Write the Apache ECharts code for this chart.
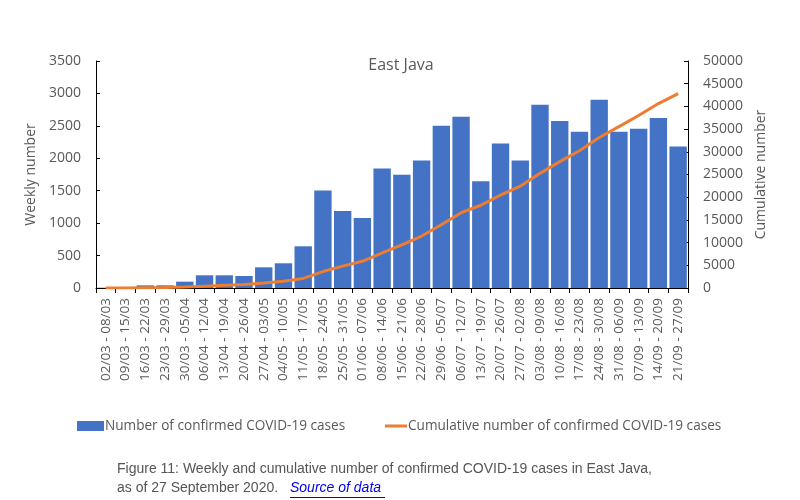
<!DOCTYPE html>
<html>
<head>
<meta charset="utf-8">
<script src="https://cdn.jsdelivr.net/npm/echarts@6/dist/echarts.min.js"></script>
<style>
html,body{margin:0;padding:0;background:#fff;}
#c{width:800px;height:500px;}
</style>
</head>
<body>
<div id="c"></div>
<script>
var categories = ['02/03 - 08/03','09/03 - 15/03','16/03 - 22/03','23/03 - 29/03','30/03 - 05/04','06/04 - 12/04','13/04 - 19/04','20/04 - 26/04','27/04 - 03/05','04/05 - 10/05','11/05 - 17/05','18/05 - 24/05','25/05 - 31/05','01/06 - 07/06','08/06 - 14/06','15/06 - 21/06','22/06 - 28/06','29/06 - 05/07','06/07 - 12/07','13/07 - 19/07','20/07 - 26/07','27/07 - 02/08','03/08 - 09/08','10/08 - 16/08','17/08 - 23/08','24/08 - 30/08','31/08 - 06/09','07/09 - 13/09','14/09 - 20/09','21/09 - 27/09'];
var weekly = [5,10,41,41,98,196,196,185,319,381,643,1503,1189,1081,1843,1745,1966,2501,2640,1647,2229,1966,2826,2574,2409,2903,2409,2455,2620,2182];
var cumulative = [5,15,55,95,195,390,585,770,1090,1470,2115,3620,4810,5890,7730,9480,11440,13940,16580,18230,20460,22430,25250,27830,30230,33140,35550,38000,40620,42800];
var leftTicks = {min:0, max:3500, interval:500};
var rightTicks = {min:0, max:50000, interval:5000};
var barName = 'Number of confirmed COVID-19 cases';
var lineName = 'Cumulative number of confirmed COVID-19 cases';

var gray = '#595959';
var font = '"Open Sans", sans-serif';
var capFont = '14px "Liberation Sans", Arial, sans-serif';
var plain = function (v) { return String(v); };
var chart = echarts.init(document.getElementById('c'), null, {renderer:'canvas'});
chart.setOption({
  animation:false,
  backgroundColor:'#fff',
  title:{text:'East Java', left:396, textAlign:'center', top:52,
    textStyle:{color:gray, fontSize:16, fontWeight:'normal', fontFamily:font}},
  grid:{left:96, right:112, top:61, bottom:212, containLabel:false},
  legend:[{
    top:414, left:72, itemWidth:27, itemHeight:10, icon:'rect',
    textStyle:{color:gray, fontSize:13.6, fontFamily:font, padding:[0,0,0,-4]},
    data:[barName]
  },{
    top:414, left:380, itemWidth:22, itemHeight:3, icon:'rect',
    textStyle:{color:gray, fontSize:13.6, fontFamily:font, padding:[0,0,0,-4]},
    data:[lineName]
  }],
  xAxis:{
    type:'category', data:categories, boundaryGap:true,
    axisLine:{lineStyle:{color:'#000', width:1}},
    axisTick:{show:true, alignWithLabel:false, length:5, lineStyle:{color:'#000'}},
    axisLabel:{rotate:90, interval:0, color:gray, fontSize:13.5, fontFamily:font, margin:10}
  },
  yAxis:[{
    type:'value', min:leftTicks.min, max:leftTicks.max, interval:leftTicks.interval,
    name:'Weekly number', nameLocation:'middle', nameGap:43, nameRotate:90,
    nameTextStyle:{color:gray, fontSize:14, fontFamily:font},
    axisLine:{show:true, lineStyle:{color:'#000'}},
    axisTick:{show:true, inside:true, length:4, lineStyle:{color:'#000'}},
    axisLabel:{color:gray, fontSize:14, fontFamily:font, margin:15, formatter:plain},
    splitLine:{show:false}
  },{
    type:'value', min:rightTicks.min, max:rightTicks.max, interval:rightTicks.interval,
    name:'Cumulative number', nameLocation:'middle', nameGap:58, nameRotate:90,
    nameTextStyle:{color:gray, fontSize:14, fontFamily:font},
    axisLine:{show:true, lineStyle:{color:'#000'}},
    axisTick:{show:true, inside:true, length:4, lineStyle:{color:'#000'}},
    axisLabel:{color:gray, fontSize:14, fontFamily:font, margin:15, formatter:plain},
    splitLine:{show:false}
  }],
  series:[{
    name:barName, type:'bar', data:weekly, yAxisIndex:0,
    barCategoryGap:'12%', itemStyle:{color:'#4472C4'}
  },{
    name:lineName, type:'line', data:cumulative, yAxisIndex:1,
    showSymbol:false, symbol:'none', smooth:false,
    lineStyle:{color:'#ED7D31', width:3}, itemStyle:{color:'#ED7D31'}
  }],
  graphic:[{
    type:'text', left:117, top:462,
    style:{text:'Figure 11: Weekly and cumulative number of confirmed COVID-19 cases in East Java,',
      fill:'#555', font:capFont}
  },{
    type:'text', left:117, top:481,
    style:{text:'as of 27 September 2020.', fill:'#555', font:capFont}
  },{
    type:'text', left:290, top:481,
    style:{text:'Source of data', fill:'#0000EE', font:'italic ' + capFont}
  },{
    type:'line', shape:{x1:290, y1:497.5, x2:385, y2:497.5}, style:{stroke:'#0000EE', lineWidth:1}
  }]
});
</script>
</body>
</html>
